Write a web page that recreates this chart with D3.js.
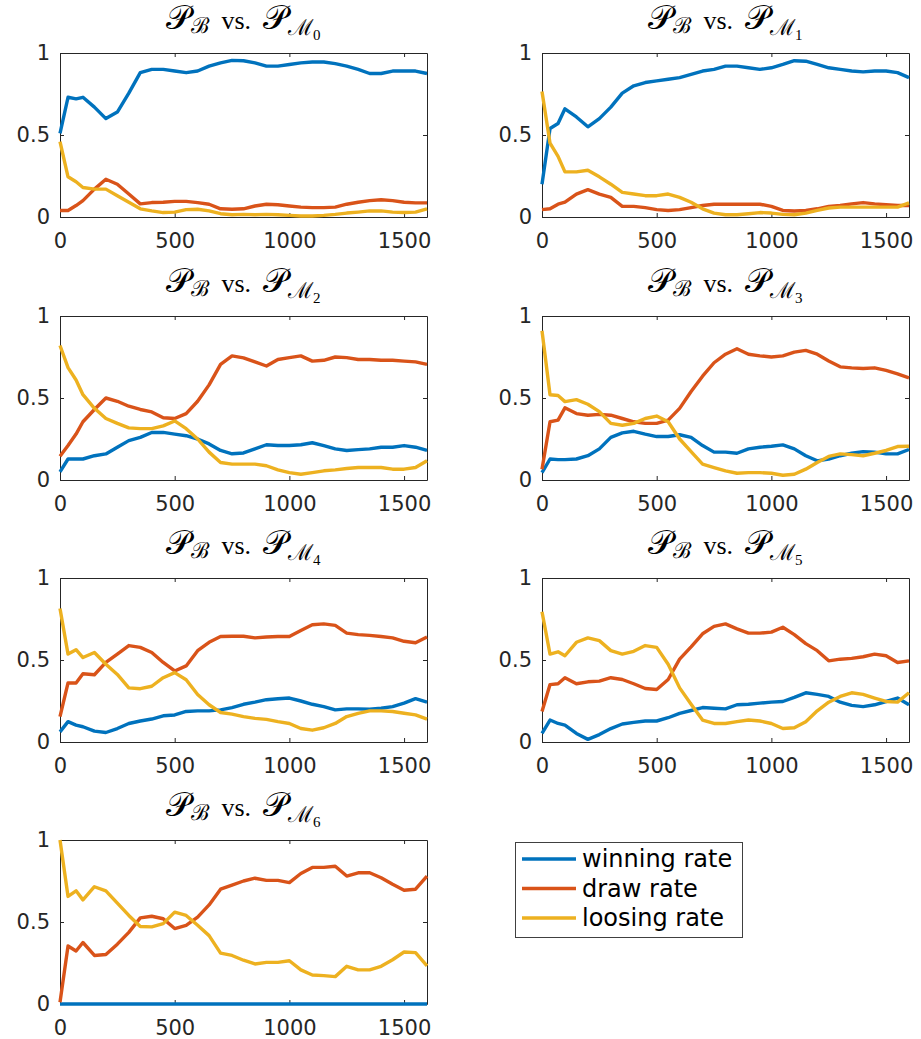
<!doctype html>
<html>
<head>
    <meta charset="UTF-8">
    <title>winning / draw / loosing rate</title>
    <script src="https://cdnjs.cloudflare.com/ajax/libs/d3/7.8.5/d3.min.js"></script>
    <style>
        body { margin: 0; background: #fff; }
        .tick text { font-family: "DejaVu Sans", sans-serif; font-size: 21px; fill: #262626; }
        .axis path, .axis line { stroke: #262626; stroke-width: 1; }
        .title { font-size: 26px; fill: #000; }
        .legend text { font-family: "DejaVu Sans", sans-serif; font-size: 24px; fill: #000; }
    </style>
</head>
<body>
<script>

    // iterations shared by every series
    var steps = [0, 35, 70, 100, 150, 200, 250, 300, 350, 400, 450, 500, 550, 600, 650, 700, 750, 800,
                 850, 900, 950, 1000, 1050, 1100, 1150, 1200, 1250, 1300, 1350, 1400, 1450, 1500, 1550, 1600];

    var xTicks = [0, 500, 1000, 1500];
    var yTicks = [0, 0.5, 1];
    var yTickLabels = ["0", "0.5", "1"];

    var seriesNames = ["winning rate", "draw rate", "loosing rate"];
    var seriesColors = ["#0072BD", "#D95319", "#EDB120"];

    var opponents = ["0", "1", "2", "3", "4", "5", "6"];

    var winM0 = [0.51, 0.73, 0.72, 0.73, 0.67, 0.60, 0.64, 0.755, 0.88, 0.90, 0.90, 0.89, 0.88, 0.89, 0.92, 0.94, 0.955, 0.953, 0.94, 0.92, 0.92, 0.93, 0.94, 0.945, 0.945, 0.935, 0.92, 0.90, 0.875, 0.875, 0.89, 0.89, 0.89, 0.875];
    var drawM0 = [0.04, 0.04, 0.07, 0.10, 0.17, 0.23, 0.20, 0.14, 0.08, 0.088, 0.09, 0.095, 0.095, 0.088, 0.078, 0.05, 0.047, 0.05, 0.067, 0.078, 0.075, 0.067, 0.06, 0.057, 0.057, 0.06, 0.078, 0.09, 0.10, 0.105, 0.10, 0.09, 0.086, 0.086];
    var loseM0 = [0.46, 0.245, 0.215, 0.18, 0.17, 0.17, 0.13, 0.09, 0.05, 0.037, 0.027, 0.03, 0.045, 0.047, 0.037, 0.02, 0.014, 0.016, 0.014, 0.016, 0.014, 0.01, 0.006, 0.006, 0.01, 0.016, 0.024, 0.03, 0.037, 0.037, 0.03, 0.027, 0.03, 0.05];

    var winM1 = [0.20, 0.54, 0.57, 0.66, 0.61, 0.55, 0.60, 0.67, 0.755, 0.80, 0.82, 0.83, 0.84, 0.85, 0.87, 0.89, 0.90, 0.92, 0.92, 0.91, 0.90, 0.91, 0.93, 0.953, 0.95, 0.93, 0.91, 0.90, 0.89, 0.885, 0.89, 0.89, 0.88, 0.85];
    var drawM1 = [0.045, 0.05, 0.078, 0.09, 0.14, 0.167, 0.14, 0.12, 0.065, 0.065, 0.057, 0.045, 0.04, 0.045, 0.057, 0.07, 0.078, 0.078, 0.078, 0.078, 0.078, 0.065, 0.04, 0.037, 0.04, 0.05, 0.065, 0.07, 0.08, 0.088, 0.08, 0.075, 0.07, 0.07];
    var loseM1 = [0.765, 0.45, 0.37, 0.275, 0.275, 0.285, 0.245, 0.20, 0.15, 0.14, 0.13, 0.13, 0.14, 0.12, 0.09, 0.05, 0.024, 0.014, 0.014, 0.02, 0.027, 0.024, 0.016, 0.014, 0.024, 0.04, 0.055, 0.06, 0.06, 0.06, 0.06, 0.06, 0.06, 0.086];

    var winM2 = [0.05, 0.128, 0.128, 0.128, 0.148, 0.159, 0.20, 0.24, 0.26, 0.29, 0.29, 0.28, 0.27, 0.25, 0.22, 0.18, 0.16, 0.165, 0.19, 0.215, 0.21, 0.21, 0.215, 0.227, 0.21, 0.19, 0.18, 0.185, 0.19, 0.20, 0.20, 0.21, 0.20, 0.18];
    var drawM2 = [0.145, 0.21, 0.28, 0.355, 0.43, 0.50, 0.48, 0.45, 0.43, 0.415, 0.38, 0.375, 0.405, 0.48, 0.58, 0.705, 0.757, 0.745, 0.72, 0.695, 0.735, 0.746, 0.757, 0.725, 0.73, 0.75, 0.746, 0.735, 0.735, 0.73, 0.73, 0.725, 0.72, 0.705];
    var loseM2 = [0.82, 0.685, 0.61, 0.52, 0.437, 0.375, 0.345, 0.318, 0.313, 0.313, 0.33, 0.36, 0.313, 0.25, 0.17, 0.107, 0.097, 0.097, 0.097, 0.087, 0.062, 0.045, 0.035, 0.045, 0.056, 0.062, 0.07, 0.076, 0.076, 0.076, 0.066, 0.066, 0.076, 0.117];

    var winM3 = [0.045, 0.128, 0.124, 0.124, 0.128, 0.148, 0.19, 0.26, 0.287, 0.297, 0.28, 0.265, 0.265, 0.276, 0.26, 0.21, 0.17, 0.17, 0.163, 0.19, 0.20, 0.206, 0.214, 0.19, 0.148, 0.117, 0.128, 0.148, 0.163, 0.173, 0.17, 0.159, 0.159, 0.186];
    var drawM3 = [0.066, 0.355, 0.365, 0.44, 0.405, 0.395, 0.40, 0.395, 0.375, 0.355, 0.345, 0.345, 0.365, 0.437, 0.54, 0.633, 0.715, 0.767, 0.80, 0.767, 0.757, 0.75, 0.757, 0.78, 0.79, 0.767, 0.726, 0.69, 0.684, 0.68, 0.684, 0.668, 0.647, 0.623];
    var loseM3 = [0.91, 0.52, 0.515, 0.478, 0.49, 0.462, 0.417, 0.345, 0.334, 0.345, 0.375, 0.39, 0.355, 0.25, 0.173, 0.097, 0.076, 0.056, 0.041, 0.045, 0.045, 0.041, 0.029, 0.035, 0.066, 0.107, 0.144, 0.159, 0.155, 0.148, 0.163, 0.18, 0.204, 0.206];

    var winM4 = [0.062, 0.124, 0.103, 0.093, 0.066, 0.058, 0.082, 0.113, 0.128, 0.14, 0.16, 0.165, 0.186, 0.19, 0.19, 0.196, 0.21, 0.23, 0.243, 0.258, 0.264, 0.268, 0.25, 0.23, 0.216, 0.196, 0.202, 0.202, 0.20, 0.206, 0.216, 0.237, 0.264, 0.243];
    var drawM4 = [0.155, 0.36, 0.36, 0.416, 0.41, 0.485, 0.536, 0.588, 0.577, 0.546, 0.485, 0.433, 0.464, 0.557, 0.608, 0.643, 0.645, 0.645, 0.635, 0.64, 0.643, 0.643, 0.68, 0.715, 0.72, 0.711, 0.664, 0.655, 0.65, 0.643, 0.635, 0.614, 0.605, 0.64];
    var loseM4 = [0.814, 0.536, 0.563, 0.515, 0.546, 0.474, 0.412, 0.33, 0.325, 0.34, 0.392, 0.423, 0.38, 0.29, 0.227, 0.18, 0.17, 0.155, 0.144, 0.138, 0.124, 0.113, 0.082, 0.072, 0.087, 0.113, 0.155, 0.175, 0.19, 0.19, 0.186, 0.175, 0.165, 0.14];

    var winM5 = [0.052, 0.134, 0.113, 0.103, 0.052, 0.016, 0.045, 0.082, 0.11, 0.12, 0.128, 0.128, 0.148, 0.175, 0.192, 0.21, 0.206, 0.202, 0.227, 0.23, 0.237, 0.243, 0.247, 0.272, 0.30, 0.29, 0.278, 0.243, 0.223, 0.216, 0.227, 0.247, 0.268, 0.227];
    var drawM5 = [0.186, 0.35, 0.355, 0.392, 0.355, 0.367, 0.371, 0.392, 0.381, 0.355, 0.326, 0.32, 0.381, 0.505, 0.58, 0.66, 0.705, 0.72, 0.69, 0.664, 0.664, 0.67, 0.70, 0.655, 0.60, 0.557, 0.495, 0.505, 0.51, 0.52, 0.536, 0.526, 0.485, 0.495];
    var loseM5 = [0.794, 0.536, 0.55, 0.526, 0.608, 0.635, 0.618, 0.557, 0.536, 0.553, 0.588, 0.577, 0.474, 0.33, 0.23, 0.134, 0.113, 0.113, 0.124, 0.134, 0.128, 0.113, 0.082, 0.087, 0.124, 0.19, 0.243, 0.278, 0.30, 0.29, 0.268, 0.247, 0.243, 0.30];

    var winM6 = [0, 0, 0, 0, 0, 0, 0, 0, 0, 0, 0, 0, 0, 0, 0, 0, 0, 0, 0, 0, 0, 0, 0, 0, 0, 0, 0, 0, 0, 0, 0, 0, 0, 0];
    var drawM6 = [0.01, 0.354, 0.323, 0.375, 0.296, 0.302, 0.365, 0.437, 0.525, 0.535, 0.52, 0.46, 0.48, 0.53, 0.604, 0.70, 0.725, 0.75, 0.767, 0.754, 0.754, 0.74, 0.796, 0.833, 0.833, 0.84, 0.78, 0.80, 0.80, 0.77, 0.73, 0.694, 0.70, 0.78];
    var loseM6 = [1.0, 0.656, 0.69, 0.635, 0.715, 0.69, 0.615, 0.54, 0.473, 0.47, 0.49, 0.56, 0.54, 0.48, 0.417, 0.31, 0.296, 0.267, 0.244, 0.254, 0.254, 0.264, 0.208, 0.177, 0.173, 0.167, 0.23, 0.208, 0.208, 0.23, 0.27, 0.317, 0.313, 0.233];

    var panelData = [
        [winM0, drawM0, loseM0],
        [winM1, drawM1, loseM1],
        [winM2, drawM2, loseM2],
        [winM3, drawM3, loseM3],
        [winM4, drawM4, loseM4],
        [winM5, drawM5, loseM5],
        [winM6, drawM6, loseM6]
    ];

    // layout (pixels)
    var colX = [60, 542],
        rowY = [53, 316, 578, 840],
        plotW = 367,
        plotH = 164;

    var svg = d3.select("body")
        .append("svg")
        .attr("width", 921)
        .attr("height", 1039);

    var x = d3.scaleLinear().domain([0, 1600]).range([0, plotW]);
    var y = d3.scaleLinear().domain([0, 1]).range([plotH, 0]);

    var line = d3.line()
        .x(function (d) { return x(d[0]); })
        .y(function (d) { return y(d[1]); });

    panelData.forEach(function (series, i) {
        var g = svg.append("g")
            .attr("transform", "translate(" + colX[i % 2] + "," + rowY[Math.floor(i / 2)] + ")");

        // box with inward ticks on all four sides
        g.append("g").attr("class", "axis")
            .attr("transform", "translate(0," + plotH + ")")
            .call(d3.axisBottom(x).tickValues(xTicks).tickSizeInner(-4).tickSizeOuter(0).tickPadding(16).tickFormat(d3.format("d")));
        g.append("g").attr("class", "axis")
            .call(d3.axisTop(x).tickValues(xTicks).tickSizeInner(-4).tickSizeOuter(0).tickFormat(""));
        g.append("g").attr("class", "axis")
            .call(d3.axisLeft(y).tickValues(yTicks).tickSizeInner(-4).tickSizeOuter(0).tickPadding(10)
                .tickFormat(function (d, k) { return yTickLabels[k]; }));
        g.append("g").attr("class", "axis")
            .attr("transform", "translate(" + plotW + ",0)")
            .call(d3.axisRight(y).tickValues(yTicks).tickSizeInner(-4).tickSizeOuter(0).tickFormat(""));

        g.selectAll(".rate")
            .data(series)
            .enter()
            .append("path")
            .attr("class", "rate")
            .attr("d", function (vals) { return line(steps.map(function (s, k) { return [s, vals[k]]; })); })
            .style("fill", "none")
            .style("stroke", function (d, k) { return seriesColors[k]; })
            .style("stroke-width", 3.4)
            .style("stroke-linejoin", "round");

        // title  P_B vs. P_{M_i}
        var t = g.append("text")
            .attr("class", "title")
            .attr("x", plotW / 2)
            .attr("y", -24)
            .style("text-anchor", "middle");
        t.append("tspan").text("\uD835\uDCAB").style("font-size", "34px");
        t.append("tspan").text("\u212C").attr("dy", 4).style("font-size", "22px");
        t.append("tspan").text("vs.").attr("dy", -4).attr("dx", 12).style("font-family", "Liberation Serif, serif");
        t.append("tspan").text("\uD835\uDCAB").attr("dx", 12).style("font-size", "34px");
        t.append("tspan").text("\u2133").attr("dy", 6).style("font-size", "22px");
        t.append("tspan").text(opponents[i]).attr("dy", 5).style("font-size", "15px").style("font-family", "Liberation Serif, serif");
    });

    // LEGEND
    var legend = svg.append("g")
        .attr("class", "legend")
        .attr("transform", "translate(515,842)");

    legend.append("rect")
        .attr("x", 0.5)
        .attr("y", 0.5)
        .attr("width", 227)
        .attr("height", 95)
        .style("fill", "#fff")
        .style("stroke", "#404040")
        .style("stroke-width", 1);

    var items = legend.selectAll(".item")
        .data(seriesNames)
        .enter()
        .append("g")
        .attr("class", "item")
        .attr("transform", function (d, k) { return "translate(0," + (17 + k * 29.5) + ")"; });

    items.append("line")
        .attr("x1", 7)
        .attr("x2", 61)
        .style("stroke", function (d, k) { return seriesColors[k]; })
        .style("stroke-width", 3.4);

    items.append("text")
        .text(function (d) { return d; })
        .attr("x", 67)
        .attr("dy", "0.35em");

</script>
</body>
</html>
